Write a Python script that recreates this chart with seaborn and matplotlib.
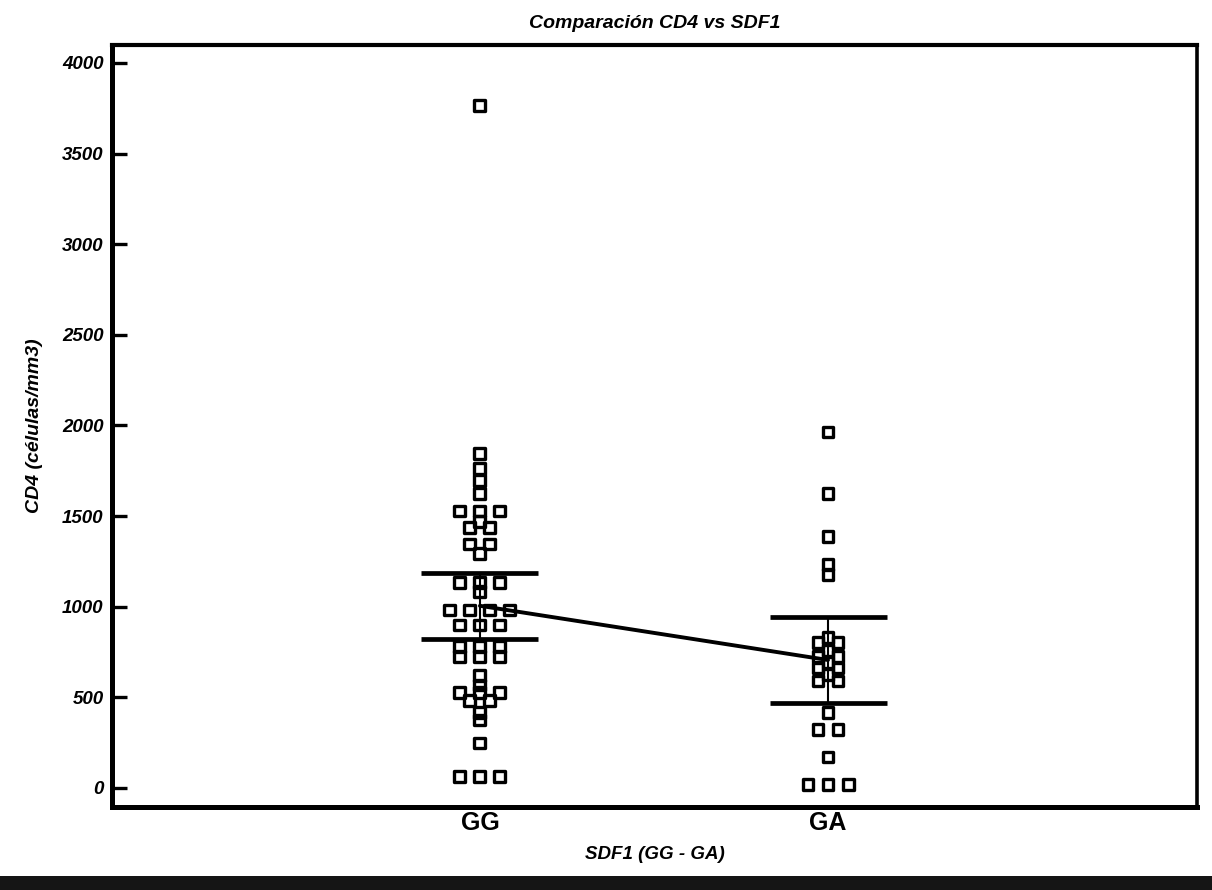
import numpy as np
import pandas as pd
import matplotlib
matplotlib.use("Agg")
import matplotlib.pyplot as plt
import seaborn as sns
from matplotlib.patches import Rectangle

# ---------------- data ----------------
categories = ["GG", "GA"]
gg_values = [3763, 1843, 1764, 1696, 1626, 1528, 1528, 1528, 1470, 1438, 1438,
             1346, 1346, 1296, 1133, 1133, 1133, 1082, 982, 982, 982, 982,
             899, 899, 899, 778, 778, 778, 724, 724, 724, 620, 568,
             526, 526, 526, 485, 485, 414, 375, 248, 65, 65, 65]
ga_values = [1964, 1627, 1385, 1235, 1180, 828, 800, 800, 760, 724, 724, 690,
             662, 662, 625, 590, 590, 415, 320, 320, 171, 17, 17, 17]
group_means = [1005, 706]
ci_low = [822, 469]
ci_high = [1188, 944]
y_ticks = [0, 500, 1000, 1500, 2000, 2500, 3000, 3500, 4000]

title = "Comparación CD4 vs SDF1"
x_title = "SDF1 (GG - GA)"
y_title = "CD4 (células/mm3)"

# ---------------- build tidy frame with dot-plot stacking ----------------
df = pd.DataFrame({
    "grupo": ["GG"] * len(gg_values) + ["GA"] * len(ga_values),
    "cd4": gg_values + ga_values,
})
df["code"] = pd.Categorical(df["grupo"], categories=categories).codes
step = 0.0575  # horizontal step between stacked markers (axis units)
df["rank"] = df.groupby(["grupo", "cd4"]).cumcount()
df["n"] = df.groupby(["grupo", "cd4"])["cd4"].transform("size")
df["xpos"] = df["code"] + (df["rank"] - (df["n"] - 1) / 2) * step

# ---------------- figure ----------------
sns.set_style("white")
plt.rcParams["font.family"] = ["Liberation Sans", "DejaVu Sans"]
for key in ["text.color", "axes.labelcolor", "xtick.color", "ytick.color"]:
    plt.rcParams[key] = "black"

W, H = 1212, 890
fig = plt.figure(figsize=(W / 100, H / 100), dpi=100)
fig.patch.set_facecolor("white")
ax = fig.add_axes([112 / W, 1 - 807 / H, (1197 - 112) / W, (807 - 45) / H])

# error bars (CI) : vertical thin line + wide caps
codes = np.arange(len(categories))
cap_half = 0.168
ax.vlines(codes, ci_low, ci_high, color="black", lw=1.5, zorder=2)
ax.hlines(ci_low, codes - cap_half, codes + cap_half, color="black", lw=3.4, zorder=2)
ax.hlines(ci_high, codes - cap_half, codes + cap_half, color="black", lw=3.4, zorder=2)

# line joining the means
sns.lineplot(x=codes, y=group_means, color="black", lw=2.8, ax=ax, zorder=2)

# points
sns.scatterplot(data=df, x="xpos", y="cd4", marker="s", s=62,
                facecolor="none", edgecolor="black", linewidth=2.4,
                ax=ax, zorder=3, legend=False)

ax.set_xlim(-1.057, 2.06)
ax.set_ylim(-105, 4099)
ax.set_xticks(codes)
ax.set_xticklabels(categories, fontsize=18, fontweight="bold")
ax.set_yticks(y_ticks)
ax.set_yticklabels([str(t) for t in y_ticks], fontsize=13.5, fontweight="bold",
                   fontstyle="italic")
ax.tick_params(axis="y", direction="in", length=11, width=2.4, pad=6,
               color="black", left=True)
ax.tick_params(axis="x", length=0, pad=3)

ax.set_xlabel(x_title, fontsize=13.5, fontweight="bold", fontstyle="italic",
              labelpad=8)
ax.set_ylabel(y_title, fontsize=14, fontweight="bold", fontstyle="italic",
              labelpad=14)
ax.set_title(title, fontsize=14, fontweight="bold", fontstyle="italic", pad=12)

for side, lw in [("left", 3.6), ("bottom", 3.6), ("top", 3.0), ("right", 2.6)]:
    ax.spines[side].set_visible(True)
    ax.spines[side].set_color("black")
    ax.spines[side].set_linewidth(lw)

# dark scanning band at the bottom of the page
fig.add_artist(Rectangle((0, 0), 1, 14 / H, transform=fig.transFigure,
                         facecolor="#151515", edgecolor="none"))

fig.savefig("out.png", dpi=100)
